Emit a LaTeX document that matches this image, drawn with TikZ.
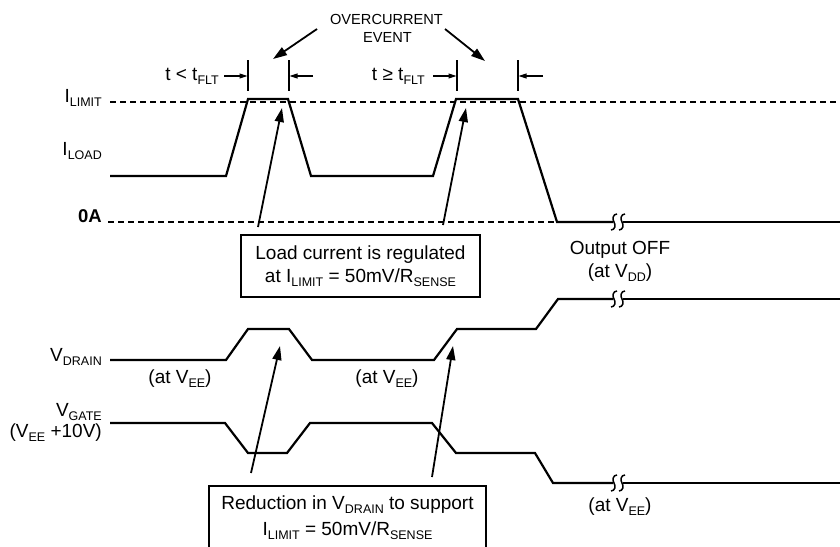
\documentclass[tikz,border=0pt]{standalone}
\usepackage{fontspec}
\setmainfont{Liberation Sans}
\usetikzlibrary{arrows.meta}
\newcommand{\subtx}[1]{\raisebox{-4.5pt}{\fontsize{12.5}{14}\selectfont #1}}
\tikzset{
  wave/.style={line width=2.2pt, line join=miter},
  dashline/.style={line width=1.2pt, dash pattern=on 6pt off 4pt},
  marker/.style={line width=1.1pt},
  bigarrow/.style={line width=1.8pt, -{Triangle[length=14pt,width=9pt]}},
  smallarrow/.style={line width=1.1pt, -{Triangle[length=8pt,width=5pt]}},
  lbl/.style={font=\fontsize{19}{23}\selectfont, inner sep=0pt},
  smalllbl/.style={font=\fontsize{14.6}{18}\selectfont, inner sep=0pt},
  brk/.style={line width=1.5pt},
  boxed/.style={draw, line width=1.8pt, inner sep=0pt, align=center, font=\fontsize{19}{23}\selectfont},
}
\begin{document}
\begin{tikzpicture}[x=1pt,y=-1pt]
\useasboundingbox (0,0) rectangle (840,546);
\clip (0,0) rectangle (840,546);
\fill[white] (0,0) rectangle (840,546);

% dashed reference lines
\draw[dashline] (110,102) -- (840,102);
\draw[dashline] (108,222) -- (557,222);

% labels left
\node[lbl, anchor=base east] (ilimit) at (102,102) {I\subtx{LIMIT}};
\node[lbl, anchor=base east] (iload) at (102,155) {I\subtx{LOAD}};
\node[lbl, anchor=base east, font=\fontsize{18.5}{22}\selectfont\bfseries] (zeroA) at (102,222) {0A};
\node[lbl, anchor=base east] (vdrain) at (102,361) {V\subtx{DRAIN}};
\node[lbl, anchor=base east] (vgate) at (102,416) {V\subtx{GATE}};
\node[lbl, anchor=base east] (vgate2) at (102,437) {(V\subtx{EE} +10V)};

% I_LOAD waveform
\draw[wave] (110,176) -- (226,176) -- (248,99) -- (288,99) -- (311,176) -- (433,176) -- (456,99) -- (518,99) -- (557,222) -- (613,222);
\draw[wave] (623,222) -- (840,222);

% V_DRAIN waveform
\draw[wave] (110,360) -- (226,360) -- (248,329) -- (289,329) -- (312,360) -- (434,360) -- (457,329) -- (536,329) -- (558,299) -- (613,299);
\draw[wave] (623,299) -- (840,299);

% V_GATE waveform
\draw[wave] (110,423) -- (225,423) -- (248,453) -- (287,453) -- (310,423) -- (432,423) -- (456,453) -- (535,453) -- (553,483) -- (613,483);
\draw[wave] (623,483) -- (840,483);

% break marks
\foreach \yy in {222,299,483}{
  \foreach \xx in {614,622}{
    \draw[brk] (\xx+3,\yy-8) .. controls (\xx-1,\yy-8) and (\xx-2,\yy-3) .. (\xx,\yy) .. controls (\xx+2,\yy+3) and (\xx+1,\yy+8) .. (\xx-3,\yy+8);
  }
}

% timing markers
\coordinate (m1t) at (248,60); \coordinate (m1b) at (248,91);
\coordinate (m2t) at (289,60); \coordinate (m2b) at (289,91);
\coordinate (m3t) at (457,60); \coordinate (m3b) at (457,91);
\coordinate (m4t) at (518,60); \coordinate (m4b) at (518,91);
\draw[marker] (m1t) -- (m1b);
\draw[marker] (m2t) -- (m2b);
\draw[marker] (m3t) -- (m3b);
\draw[marker] (m4t) -- (m4b);

\coordinate (a1s) at (224,76); \coordinate (a1e) at (247.5,76);
\coordinate (a2s) at (313,76); \coordinate (a2e) at (289.5,76);
\coordinate (a3s) at (433,76); \coordinate (a3e) at (456.5,76);
\coordinate (a4s) at (543,76); \coordinate (a4e) at (518.5,76);
\draw[smallarrow] (a1s) -- (a1e);
\draw[smallarrow] (a2s) -- (a2e);
\draw[smallarrow] (a3s) -- (a3e);
\draw[smallarrow] (a4s) -- (a4e);

\node[lbl, anchor=base east] (tlt) at (219,80) {t < t\subtx{FLT}};
\node[lbl, anchor=base east] (tge) at (425,80) {t ≥ t\subtx{FLT}};

% overcurrent event
\node[smalllbl, anchor=base] (oc1) at (386.5,24) {OVERCURRENT};
\node[smalllbl, anchor=base] (oc2) at (387.5,42) {EVENT};
\coordinate (oca) at (317,29); \coordinate (ocat) at (273,59);
\coordinate (ocb) at (445,29); \coordinate (ocbt) at (485,61);
\draw[bigarrow] (oca) -- (ocat);
\draw[bigarrow] (ocb) -- (ocbt);

% box 1
\node[boxed, minimum width=239pt, minimum height=62pt] (box1) at (360.5,266)
  {Load current is regulated\\at I\subtx{LIMIT} = 50mV/R\subtx{SENSE}};
\coordinate (b1a) at (258,227); \coordinate (b1at) at (282,108);
\coordinate (b1b) at (443,225); \coordinate (b1bt) at (466,108);
\draw[bigarrow] (b1a) -- (b1at);
\draw[bigarrow] (b1b) -- (b1bt);

% output off
\node[lbl, anchor=base] (outoff) at (620,254) {Output OFF};
\node[lbl, anchor=base] (atvdd) at (620,277) {(at V\subtx{DD})};
\node[lbl, anchor=base] (atvee1) at (180,383) {(at V\subtx{EE})};
\node[lbl, anchor=base] (atvee2) at (387,383) {(at V\subtx{EE})};
\node[lbl, anchor=base] (atvee3) at (620,511) {(at V\subtx{EE})};

% box 2 (open at the bottom)
\draw[line width=1.8pt] (209,550) -- (209,486) -- (486,486) -- (486,550);
\node[lbl, anchor=base] (box2a) at (347.5,509) {Reduction in V\subtx{DRAIN} to support};
\node[lbl, anchor=base] (box2b) at (347.5,535) {I\subtx{LIMIT} = 50mV/R\subtx{SENSE}};
\coordinate (b2a) at (251,473); \coordinate (b2at) at (280,346);
\coordinate (b2b) at (432,477); \coordinate (b2bt) at (453,346);
\draw[bigarrow] (b2a) -- (b2at);
\draw[bigarrow] (b2b) -- (b2bt);
\end{tikzpicture}
\end{document}
